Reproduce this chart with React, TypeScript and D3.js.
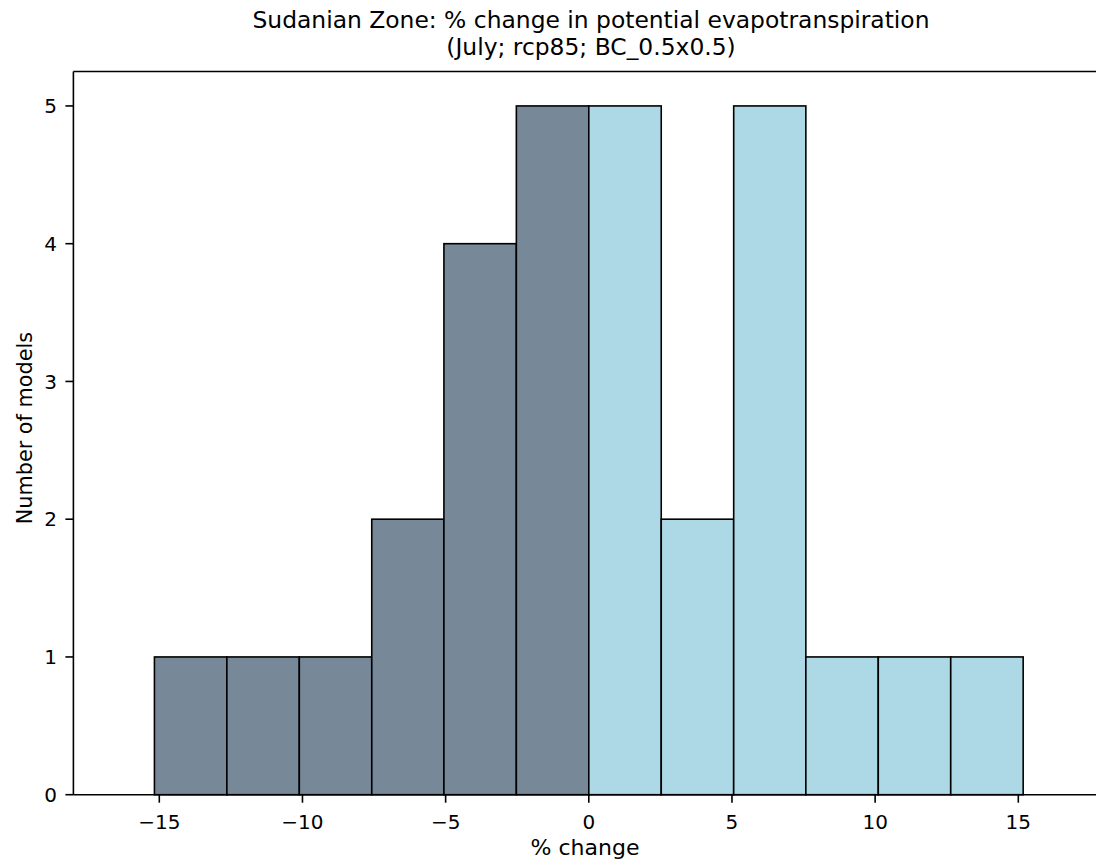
import React from "react";
import * as d3 from "d3";

const binEdges = [-15.17, -12.64, -10.11, -7.58, -5.06, -2.53, 0, 2.53, 5.06, 7.58, 10.11, 12.64, 15.17];
const counts = [1, 1, 1, 2, 4, 5, 5, 2, 5, 1, 1, 1];
const xTicks = [-15, -10, -5, 0, 5, 10, 15];
const yTicks = [0, 1, 2, 3, 4, 5];
const titleLines = ["Sudanian Zone: % change in potential evapotranspiration", "(July; rcp85; BC_0.5x0.5)"];
const xLabel = "% change";
const yLabel = "Number of models";
const negColor = "#778899";
const posColor = "#add8e6";

export default function App() {
  const W = 1096, H = 865;
  const x = d3.scaleLinear().domain([-18, 18]).range([73.4, 1104.2]);
  const y = d3.scaleLinear().domain([0, 5.25]).range([794.7, 71.5]);
  const font = "'DejaVu Sans', sans-serif";
  const bins = counts.map((c, i) => ({ x0: binEdges[i], x1: binEdges[i + 1], c }));
  return (
    <svg width={W} height={H} style={{ position: "absolute", left: 0, top: 0, background: "#fff" }} fontFamily={font}>
      <rect x={0} y={0} width={W} height={H} fill="#fff" />
      {bins.map((b, i) => (
        <rect key={i} x={x(b.x0)} y={y(b.c)} width={x(b.x1) - x(b.x0)} height={y(0) - y(b.c)}
          fill={b.x1 <= 0 ? negColor : posColor} stroke="#000" strokeWidth={1.6} />
      ))}
      {/* spines */}
      <line x1={x.range()[0]} x2={x.range()[0]} y1={y(5.25)} y2={y(0)} stroke="#000" strokeWidth={1.6} />
      <line x1={x.range()[0]} x2={x.range()[1]} y1={y(0)} y2={y(0)} stroke="#000" strokeWidth={1.6} />
      <line x1={x.range()[0]} x2={x.range()[1]} y1={y(5.25)} y2={y(5.25)} stroke="#000" strokeWidth={1.6} />
      <line x1={x.range()[1]} x2={x.range()[1]} y1={y(5.25)} y2={y(0)} stroke="#000" strokeWidth={1.6} />
      {xTicks.map((t) => (
        <g key={t}>
          <line x1={x(t)} x2={x(t)} y1={y(0)} y2={y(0) + 8} stroke="#000" strokeWidth={1.6} />
          <text x={x(t)} y={828.5} textAnchor="middle" fontSize={20} fill="#000">
            {t < 0 ? "\u2212" + Math.abs(t) : String(t)}
          </text>
        </g>
      ))}
      {yTicks.map((t) => (
        <g key={t}>
          <line x1={x.range()[0] - 8} x2={x.range()[0]} y1={y(t)} y2={y(t)} stroke="#000" strokeWidth={1.6} />
          <text x={57} y={y(t)} dy="0.36em" textAnchor="end" fontSize={20} fill="#000">{t}</text>
        </g>
      ))}
      <text x={585} y={855} textAnchor="middle" fontSize={22} fill="#000">{xLabel}</text>
      <text transform={`translate(31.5, ${(y(0) + y(5.25)) / 2 - 5}) rotate(-90)`} textAnchor="middle" fontSize={20.8} fill="#000">{yLabel}</text>
      {titleLines.map((l, i) => (
        <text key={i} x={591} y={28 + i * 27} textAnchor="middle" fontSize={23.4} fill="#000">{l}</text>
      ))}
    </svg>
  );
}
